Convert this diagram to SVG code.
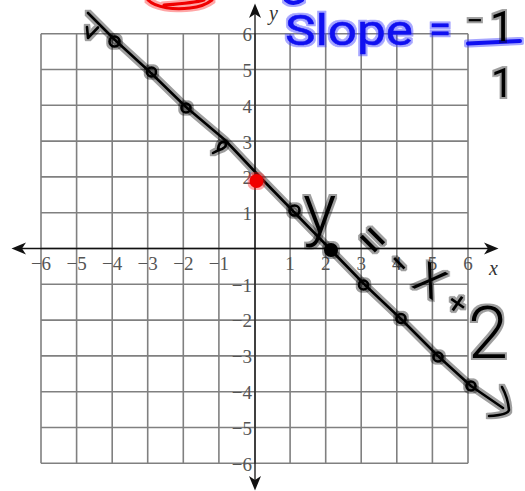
<svg xmlns="http://www.w3.org/2000/svg" width="525" height="491" viewBox="0 0 525 491">
<style>
.grid{fill:none;stroke:#808080;stroke-width:1.6}
.axis{fill:none;stroke:#111;stroke-width:1.3}
.ah{fill:#111;stroke:none}
.lbl{font-family:"Liberation Serif","Times New Roman",serif;font-size:19px;fill:#555}
.lx{text-anchor:middle}
.ly{text-anchor:end}
.var{font-family:"Liberation Serif","Times New Roman",serif;font-size:20px;font-style:italic;fill:#333}
.ink{fill:none;stroke:#000;stroke-width:2.6;stroke-linecap:round;stroke-linejoin:round}
.blueink{fill:none;stroke:#1010f0;stroke-width:4;stroke-linecap:round;stroke-linejoin:round}
.redink{fill:none;stroke:#f00000;stroke-width:3;stroke-linecap:round}
.hand{font-family:Roboto,"Liberation Sans",Arial,sans-serif;font-weight:300;fill:#000}
.reg{font-weight:400}
.handb{font-family:Roboto,"Liberation Sans",Arial,sans-serif;font-weight:400;fill:#1010f0;stroke:#1010f0;stroke-width:0.5;stroke-linejoin:round}
</style>
<defs>
<filter id="haloK" filterUnits="userSpaceOnUse" x="0" y="0" width="525" height="491" color-interpolation-filters="sRGB">
<feMorphology in="SourceAlpha" operator="dilate" radius="2" result="d"/>
<feGaussianBlur in="d" stdDeviation="0.7" result="b"/>
<feFlood flood-color="#000" flood-opacity="0.38"/>
<feComposite in2="b" operator="in" result="h"/>
<feMerge><feMergeNode in="h"/><feMergeNode in="SourceGraphic"/></feMerge>
</filter>
<filter id="haloB" filterUnits="userSpaceOnUse" x="0" y="0" width="525" height="491" color-interpolation-filters="sRGB">
<feMorphology in="SourceAlpha" operator="dilate" radius="2" result="d"/>
<feGaussianBlur in="d" stdDeviation="0.7" result="b"/>
<feFlood flood-color="#3a3aff" flood-opacity="0.45"/>
<feComposite in2="b" operator="in" result="h"/>
<feMerge><feMergeNode in="h"/><feMergeNode in="SourceGraphic"/></feMerge>
</filter>
<filter id="haloR" filterUnits="userSpaceOnUse" x="0" y="0" width="525" height="491" color-interpolation-filters="sRGB">
<feMorphology in="SourceAlpha" operator="dilate" radius="2.2" result="d"/>
<feGaussianBlur in="d" stdDeviation="0.7" result="b"/>
<feFlood flood-color="#ff2020" flood-opacity="0.4"/>
<feComposite in2="b" operator="in" result="h"/>
<feMerge><feMergeNode in="h"/><feMergeNode in="SourceGraphic"/></feMerge>
</filter>
</defs>
<rect width="525" height="491" fill="#fff"/>

<g id="grid">
<path class="grid" d="M41 33.7V463.3M76.6 33.7V463.3M112.2 33.7V463.3M147.7 33.7V463.3M183.3 33.7V463.3M218.9 33.7V463.3M255 33.7V463.3M290.1 33.7V463.3M325.7 33.7V463.3M361.2 33.7V463.3M396.8 33.7V463.3M432.4 33.7V463.3M468 33.7V463.3
M41 33.7H468M41 69.5H468M41 105.3H468M41 141.1H468M41 176.9H468M41 212.7H468M41 248.5H468M41 284.3H468M41 320.1H468M41 355.9H468M41 391.7H468M41 427.5H468M41 463.3H468"/>
</g>

<g id="axes">
<path class="axis" d="M16 248.5H494M255 8V486"/>
<path class="ah" d="M11.5 248.5L26 242.5L22 248.5L26 254.5Z"/>
<path class="ah" d="M498.5 248.5L484 242.5L488 248.5L484 254.5Z"/>
<path class="ah" d="M255 3.5L249 18L255 14L261 18Z"/>
<path class="ah" d="M255 490.5L249 476L255 480L261 476Z"/>
<text class="var" x="269" y="20">y</text>
<text class="var" x="489" y="275">x</text>
</g>

<g id="xlabels" class="lbl lx">
<text x="41" y="270">−6</text>
<text x="76.6" y="270">−5</text>
<text x="112.2" y="270">−4</text>
<text x="147.7" y="270">−3</text>
<text x="183.3" y="270">−2</text>
<text x="218.9" y="270">−1</text>
<text x="290.1" y="270">1</text>
<text x="325.7" y="270">2</text>
<text x="361.2" y="270">3</text>
<text x="396.8" y="270">4</text>
<text x="432.4" y="270">5</text>
<text x="468" y="270">6</text>
</g>
<g id="ylabels" class="lbl ly">
<text x="252" y="41">6</text>
<text x="252" y="77">5</text>
<text x="252" y="113">4</text>
<text x="252" y="148.5">3</text>
<text x="252" y="184">2</text>
<text x="252" y="220">1</text>
<text x="252" y="291.5">−1</text>
<text x="252" y="327">−2</text>
<text x="252" y="363">−3</text>
<text x="252" y="399">−4</text>
<text x="252" y="434.5">−5</text>
<text x="252" y="470.5">−6</text>
</g>

<g id="connectors">
<g id="drawn-line" filter="url(#haloK)">
<path class="ink" d="M88 13L115 40L151 73L186 107L225 140L260 177L294 212L331 250L364 284L401 319L438 356L471 386L503 408"/>
<path class="ink" d="M87 27L88 38L98 27.5"/>
<path class="ink" d="M502 387Q508 398 509 410Q508 415 489 416"/>
</g>
</g>

<g id="points" filter="url(#haloK)">
<circle class="ink" cx="114.5" cy="41.5" r="5"/>
<circle class="ink" cx="151.5" cy="72" r="4.5"/>
<circle class="ink" cx="186" cy="108" r="4.5"/>
<path class="ink" d="M218 149Q219 141 225 142Q228 146 222 149Q218 150 213 153"/>
<circle class="ink" cx="294.5" cy="210.5" r="5"/>
<circle cx="331" cy="250" r="7" fill="#000"/>
<circle class="ink" cx="363.5" cy="285" r="4.5"/>
<circle class="ink" cx="401" cy="318.5" r="4.5"/>
<circle class="ink" cx="438" cy="357" r="4.5"/>
<circle class="ink" cx="471" cy="386" r="4.5"/>
</g>

<g id="red-marks" filter="url(#haloR)">
<circle cx="256.5" cy="181" r="7" fill="#f00000"/>
<path class="redink" d="M148 0C156 8 175 10 190 8C200 7 207 4 212 0M164 5C178 4 194 3 204 0"/>
</g>

<g id="slope" filter="url(#haloB)">
<path class="blueink" d="M286 0Q293 6 302 0"/>
<text class="handb" x="285" y="45" font-size="42" textLength="128" lengthAdjust="spacingAndGlyphs">Slope</text>
<text class="handb" x="440" y="43" font-size="40" text-anchor="middle">=</text>
<path class="blueink" d="M468 43.5L520 41"/>
</g>
<g id="fraction" filter="url(#haloK)">
<text class="hand reg" y="41"><tspan x="466" dy="-10" font-size="30">−</tspan><tspan x="490" dy="10" font-size="42">1</tspan></text>
<text class="hand reg" x="491" y="97" font-size="40">1</text>
</g>

<g id="equation" filter="url(#haloK)">
<text class="hand"><tspan x="303" y="233" font-size="70">y</tspan><tspan class="reg" x="350" y="242" font-size="52" rotate="45">=</tspan><tspan class="reg" x="383" y="265" font-size="36" rotate="45">−</tspan><tspan x="410" y="286" font-size="58" rotate="32">x</tspan><tspan class="reg" x="444" y="307" font-size="32" rotate="35">+</tspan><tspan x="468" y="358" font-size="72">2</tspan></text>
</g>
</svg>
